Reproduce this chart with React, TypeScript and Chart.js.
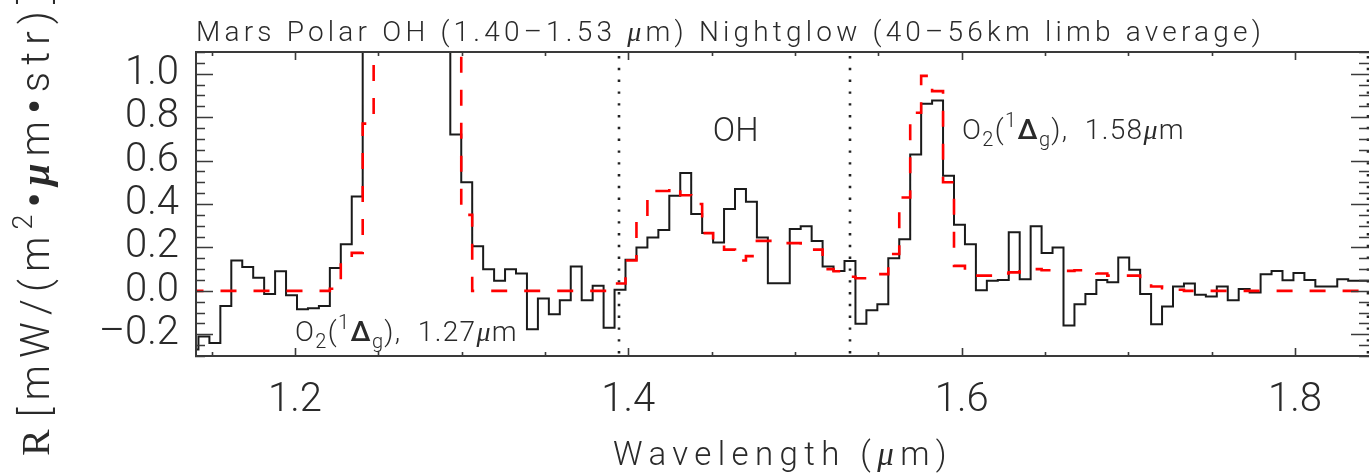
import React, { useEffect, useRef } from 'react';
import { Chart, registerables } from 'chart.js';

Chart.register(...registerables);

// Spectral grid (bin edges of the instrument)
const BIN_START = 1.1355; // left edge of first bin (um)
const BIN_WIDTH = 0.00657; // um

// Observed limb-average radiance, one value per bin (black histogram)
const OBSERVED = [
  -0.27, -0.21, -0.24, -0.07, 0.14, 0.11, 0.06, -0.015, 0.09, -0.02,
  -0.085, -0.08, -0.07, 0.105, 0.215, 0.435, 1.6, 2.4, 3.0, 3.2,
  2.8, 2.1, 1.6, 1.2, 0.72, 0.5, 0.205, 0.1, 0.046, 0.1,
  0.08, -0.177, -0.035, -0.108, -0.043, 0.112, -0.043, 0.023, -0.17, 0.005,
  0.143, 0.2, 0.246, 0.28, 0.438, 0.543, 0.354, 0.266, 0.223, 0.377,
  0.469, 0.41, 0.246, 0.035, 0.035, 0.285, 0.297, 0.23, 0.112, 0.092,
  0.138, -0.151, -0.089, -0.062, 0.15, 0.238, 0.628, 0.862, 0.877, 0.53,
  0.305, 0.215, 0.003, 0.046, 0.05, 0.27, 0.054, 0.297, 0.174, 0.2,
  -0.159, -0.062, -0.015, 0.05, 0.04, 0.154, 0.097, -0.015, -0.154, -0.072,
  0.02, 0.034, -0.018, -0.026, 0.02, -0.043, 0.008, -0.008, 0.077, 0.092,
  0.049, 0.082, 0.05, 0.02, 0.02, 0.054, 0.046, 0.046,
];

// Model spectrum (red dashed histogram)
const MODEL = [
  0, 0, 0, 0, 0, 0, 0, 0, 0, 0,
  0, 0, 0, 0.01, 0.146, 0.175, 0.77, 1.5, 2.3, 2.9,
  3.1, 2.7, 2.0, 1.5, 1.2, 0.35, 0, 0, 0, 0,
  0, 0, 0, 0, 0, 0, 0, 0, 0, 0.034,
  0.14, 0.33, 0.46, 0.46, 0.48, 0.44, 0.4, 0.266, 0.22, 0.19,
  0.14, 0.16, 0.23, 0.23, 0.22, 0.22, 0.2, 0.19, 0.1, 0.09,
  0.065, 0.058, 0.077, 0.077, 0.17, 0.43, 0.82, 0.99, 0.92, 0.5,
  0.115, 0.07, 0.07, 0.07, 0.08, 0.085, 0.09, 0.1, 0.095, 0.092,
  0.092, 0.095, 0.095, 0.08, 0.07, 0.07, 0.07, 0.04, 0.02, 0.012,
  0.005, 0, 0, 0, 0, 0, 0, 0, 0, 0,
  0, 0, 0, 0, 0, 0, 0, 0,
];

const X_TICKS = [1.2, 1.4, 1.6, 1.8];
const Y_TICKS = [-0.2, 0, 0.2, 0.4, 0.6, 0.8, 1.0];
const X_MIN = 1.14;
const X_MAX = 1.8444;
const Y_MIN = -0.3;
const Y_MAX = 1.1;
const BAND_LIMITS = [1.3946, 1.533, 1.8438];

const DASH = '\u2013';
const TITLE = `Mars Polar OH (1.40${DASH}1.53 `;
const TITLE_END = `) Nightglow (40${DASH}56km limb average)`;
const X_TITLE = 'Wavelength (';
const Y_UNIT_A = '[mW/(m';
const Y_UNIT_B = '\u2022';
const Y_UNIT_C = 'm\u2022str)]';

const SANS = "Roboto, 'DejaVu Sans', sans-serif";
const SERIF = "'Liberation Serif', 'DejaVu Serif', serif";
const TEXT = '#2a2a2a';
const W = 300;

type Part = { t: string; font: string; dy?: number };

function partsWidth(ctx: CanvasRenderingContext2D, parts: Part[], sp: number) {
  let w = 0;
  for (const p of parts) {
    ctx.font = p.font;
    (ctx as any).letterSpacing = sp + 'px';
    w += ctx.measureText(p.t).width;
  }
  return w;
}

function charCount(parts: Part[]) {
  return parts.reduce((n, p) => n + Array.from(p.t).length, 0);
}

function drawParts(ctx: CanvasRenderingContext2D, parts: Part[], x: number, y: number, sp: number) {
  let cx = x;
  for (const p of parts) {
    ctx.font = p.font;
    (ctx as any).letterSpacing = sp + 'px';
    ctx.fillText(p.t, cx, y + (p.dy || 0));
    cx += ctx.measureText(p.t).width;
  }
  (ctx as any).letterSpacing = '0px';
  return cx - x;
}

// draw parts stretched (via letter spacing) to a target width
function drawFit(ctx: CanvasRenderingContext2D, parts: Part[], x: number, y: number, target: number, align: 'left' | 'center' = 'left') {
  const nat = partsWidth(ctx, parts, 0);
  const sp = Math.max(0, (target - nat) / charCount(parts));
  const w = partsWidth(ctx, parts, sp);
  const sx = align === 'center' ? x - w / 2 : x;
  return drawParts(ctx, parts, sx, y, sp);
}

function o2Label(wl: string, size: number): Part[] {
  const f = `${W} ${size}px ${SANS}`;
  const s = `${W} ${Math.round(size * 0.7)}px ${SANS}`;
  return [
    { t: 'O', font: f },
    { t: '2', font: s, dy: size * 0.25 },
    { t: '(', font: f },
    { t: '1', font: s, dy: -size * 0.42 },
    { t: '\u0394', font: `500 ${size}px ${SANS}` },
    { t: 'g', font: s, dy: size * 0.25 },
    { t: '),  ' + wl, font: f },
    { t: '\u03bc', font: `italic 500 ${size}px ${SERIF}` },
    { t: 'm', font: f },
  ];
}

function histogram(values: number[]) {
  const pts = values.map((v, i) => ({ x: BIN_START + i * BIN_WIDTH, y: v }));
  pts.push({ x: BIN_START + values.length * BIN_WIDTH, y: values[values.length - 1] });
  return pts;
}

const decor = {
  id: 'decor',
  beforeDatasetsDraw(chart: any) {
    const { ctx, chartArea: a, scales } = chart;
    ctx.save();
    ctx.strokeStyle = '#222';
    ctx.lineWidth = 2.6;
    ctx.setLineDash([2.4, 9.4]);
    for (const b of BAND_LIMITS) {
      const px = Math.round(scales.x.getPixelForValue(b));
      ctx.beginPath();
      ctx.moveTo(px, a.top + 4);
      ctx.lineTo(px, a.bottom);
      ctx.stroke();
    }
    ctx.restore();
  },
  afterDatasetsDraw(chart: any) {
    const { ctx, chartArea: a, scales } = chart;
    const xs = scales.x;
    const ys = scales.y;
    ctx.save();
    ctx.strokeStyle = '#3a3a3a';
    ctx.lineWidth = 2;
    ctx.strokeRect(a.left + 1, a.top, a.right - a.left, a.bottom - a.top);
    ctx.lineWidth = 1.6;
    ctx.beginPath();
    for (let i = -6; i <= 22; i++) {
      const v = i * 0.05;
      if (v < Y_MIN - 1e-9 || v > Y_MAX + 1e-9) continue;
      const py = Math.round(ys.getPixelForValue(v)) + 0.5;
      const len = i % 4 === 0 ? 18 : 10;
      ctx.moveTo(a.left, py);
      ctx.lineTo(a.left + len, py);
      ctx.moveTo(a.right, py);
      ctx.lineTo(a.right - len, py);
    }
    for (let i = 23; i <= 36; i++) {
      const v = i * 0.05;
      const px = Math.round(xs.getPixelForValue(v)) + 0.5;
      const len = i % 4 === 0 ? 8 : 4;
      ctx.moveTo(px, a.bottom);
      ctx.lineTo(px, a.bottom - len);
      ctx.moveTo(px, a.top);
      ctx.lineTo(px, a.top + len);
    }
    ctx.stroke();

    ctx.fillStyle = TEXT;
    ctx.textBaseline = 'alphabetic';
    ctx.textAlign = 'left';

    // title
    drawFit(
      ctx,
      [
        { t: TITLE, font: `${W} 28px ${SANS}` },
        { t: '\u03bc', font: `italic 500 28px ${SERIF}` },
        { t: 'm' + TITLE_END, font: `${W} 28px ${SANS}` },
      ],
      196,
      41,
      1069
    );

    // annotations
    drawFit(ctx, [{ t: 'OH', font: `${W} 33px ${SANS}` }], xs.getPixelForValue(1.4645), ys.getPixelForValue(0.69), 46, 'center');
    drawFit(ctx, o2Label('1.58', 28), xs.getPixelForValue(1.6002), ys.getPixelForValue(0.70), 223);
    drawFit(ctx, o2Label('1.27', 28), xs.getPixelForValue(1.2), ys.getPixelForValue(-0.232), 223);

    // x title
    drawFit(
      ctx,
      [
        { t: X_TITLE, font: `${W} 33px ${SANS}` },
        { t: '\u03bc', font: `italic 500 33px ${SERIF}` },
        { t: 'm)', font: `${W} 33px ${SANS}` },
      ],
      783,
      465,
      340,
      'center'
    );

    // y title (rotated)
    ctx.translate(49, 456);
    ctx.rotate(-Math.PI / 2);
    const rW = drawParts(ctx, [{ t: 'R', font: `40px ${SERIF}` }], 0, 0, 0);
    drawFit(
      ctx,
      [
        { t: Y_UNIT_A, font: `${W} 40px ${SANS}` },
        { t: '2', font: `${W} 27px ${SANS}`, dy: -17 },
        { t: Y_UNIT_B, font: `bold 40px ${SANS}` },
        { t: '\u03bc', font: `italic bold 40px ${SERIF}` },
        { t: Y_UNIT_C.slice(0, 1), font: `${W} 40px ${SANS}` },
        { t: Y_UNIT_C.slice(1, 2), font: `bold 40px ${SANS}` },
        { t: Y_UNIT_C.slice(2), font: `${W} 40px ${SANS}` },
      ],
      rW + 12,
      0,
      430
    );
    ctx.restore();
  },
};

export default function App() {
  const ref = useRef<HTMLCanvasElement>(null);
  useEffect(() => {
    document.body.style.margin = '0';
    const chart = new Chart(ref.current as HTMLCanvasElement, {
      type: 'line',
      data: {
        datasets: [
          {
            label: 'model',
            data: histogram(MODEL),
            borderColor: '#ff0000',
            borderWidth: 2.6,
            borderDash: [16, 17],
            stepped: 'before',
            pointRadius: 0,
            fill: false,
          },
          {
            label: 'observed',
            data: histogram(OBSERVED),
            borderColor: '#1a1a1a',
            borderWidth: 2,
            stepped: 'before',
            pointRadius: 0,
            fill: false,
          },
        ],
      },
      options: {
        animation: false,
        responsive: false,
        maintainAspectRatio: false,
        layout: { padding: { top: 52, left: 0, right: 0, bottom: 0 } },
        plugins: {
          legend: { display: false },
          tooltip: { enabled: false },
          title: { display: false },
        },
        scales: {
          x: {
            type: 'linear',
            min: X_MIN,
            max: X_MAX,
            grid: { display: false, drawTicks: false },
            border: { display: false },
            afterBuildTicks: (s: any) => {
              s.ticks = X_TICKS.map((v) => ({ value: v }));
            },
            afterFit: (s: any) => {
              s.height = 119;
            },
            ticks: {
              autoSkip: false,
              maxRotation: 0,
              padding: 21,
              color: TEXT,
              font: { family: SANS, size: 40, weight: W },
              callback: (v: any) => Number(v).toFixed(1),
            },
          },
          y: {
            type: 'linear',
            min: Y_MIN,
            max: Y_MAX,
            grid: { display: false, drawTicks: false },
            border: { display: false },
            afterBuildTicks: (s: any) => {
              s.ticks = Y_TICKS.map((v) => ({ value: v }));
            },
            afterFit: (s: any) => {
              s.width = 195;
            },
            ticks: {
              autoSkip: false,
              padding: 16,
              color: TEXT,
              font: { family: SANS, size: 40, weight: W },
              callback: (v: any) => Number(v).toFixed(1).replace('-', DASH),
            },
          },
        },
      },
      plugins: [decor],
    } as any);
    return () => chart.destroy();
  }, []);
  return (
    <div style={{ position: 'absolute', left: 0, top: 0, width: 1369, height: 475, background: '#fff', overflow: 'hidden' }}>
      <canvas ref={ref} width={1369} height={475} style={{ width: 1369, height: 475, display: 'block' }} />
    </div>
  );
}
